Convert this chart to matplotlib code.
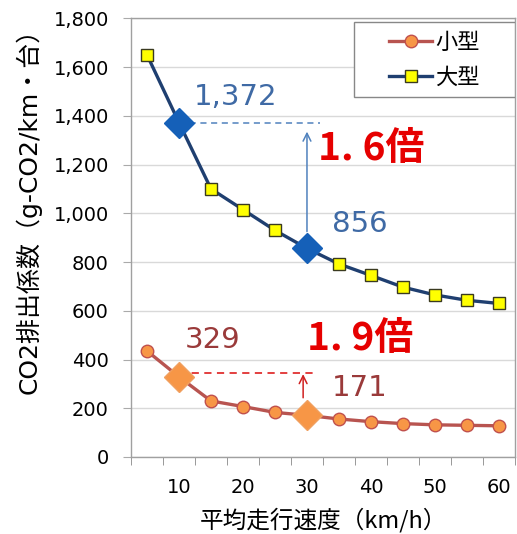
import numpy as np
import matplotlib
matplotlib.use('Agg')
import matplotlib.pyplot as plt
from matplotlib.patches import Rectangle

plt.rcParams['font.family'] = ['DejaVu Sans', 'Noto Sans CJK JP']

# speeds (km/h) and emission factors
speed = [5, 10, 15, 20, 25, 30, 35, 40, 45, 50, 55, 60]
small = [435, 329, 230, 207, 183, 171, 156, 145, 137, 132, 130, 128]
large = [1650, 1372, 1100, 1015, 930, 856, 792, 745, 697, 665, 643, 630]
xticks = [10, 20, 30, 40, 50, 60]
yticks = [0, 200, 400, 600, 800, 1000, 1200, 1400, 1600, 1800]
hi = [10, 30]  # highlighted speeds

navy = '#1f3f70'
brick = '#b85450'
orange = '#f79646'
jp = ['Noto Sans CJK JP']

fig = plt.figure(figsize=(5.17, 5.34), dpi=100)
ax = fig.add_axes([0.2534, 0.1442, 0.7426, 0.8215])

ax.plot(speed, small, color=brick, lw=2.4, marker='o', ms=9,
        mfc=orange, mec='#c0504d', mew=1.0, label='小型', zorder=3)
ax.plot(speed, large, color=navy, lw=2.4, marker='s', ms=9,
        mfc='#ffff00', mec='#3a3a20', mew=1.0, label='大型', zorder=3)

# diamonds at 10 and 30 km/h
hs = [small[speed.index(v)] for v in hi]
hl = [large[speed.index(v)] for v in hi]
ax.plot(hi, hl, ls='none', marker='D', ms=15, mfc='#1560b8', mec='#1560b8', zorder=4)
ax.plot(hi, hs, ls='none', marker='D', ms=15, mfc=orange, mec='#f0a060', zorder=4)

# comparison guides
ax.plot([10, 32], [hl[0], hl[0]], ls=(0, (4, 3)), color='#4f81bd', lw=1.1, zorder=2)
ax.plot([10, 31], [345, 345], ls=(0, (4, 3)), color='#e03030', lw=1.3, zorder=2)
ax.annotate('', xy=(30, 1335), xytext=(30, 925),
            arrowprops=dict(arrowstyle='->', color='#4f81bd', lw=1.1,
                            mutation_scale=14, shrinkA=0, shrinkB=0))
ax.annotate('', xy=(29.4, 340), xytext=(29.4, 243),
            arrowprops=dict(arrowstyle='->', color='#d02020', lw=1.1,
                            mutation_scale=14, shrinkA=0, shrinkB=0))

ax.text(18.9, 1478, '1,372', color='#3f6aa5', fontsize=21, ha='center', va='center')
ax.text(38.3, 958, '856', color='#3f6aa5', fontsize=21, ha='center', va='center')
ax.text(15.2, 480, '329', color='#9a3a3a', fontsize=21, ha='center', va='center')
ax.text(38.2, 283, '171', color='#9a3a3a', fontsize=21, ha='center', va='center')
ax.text(40.0, 1265, '1. 6倍', color='#e60000', fontsize=28, fontweight='bold',
        ha='center', va='center', family=jp)
ax.text(38.3, 485, '1. 9倍', color='#e60000', fontsize=28, fontweight='bold',
        ha='center', va='center', family=jp)

ax.set_xlim(2.5, 62.5)
ax.set_ylim(0, 1800)
ax.set_xticks(xticks)
ax.set_xticks(np.arange(2.5, 63, 5), minor=True)
ax.tick_params(axis='x', which='major', length=0, labelsize=14, pad=15)
ax.tick_params(axis='x', which='minor', length=6, color='#888888', direction='out')
ax.set_yticks(yticks)
ax.set_yticklabels([f'{v:,}' for v in yticks])
ax.tick_params(axis='y', length=6, color='#aaaaaa', labelsize=14, pad=10)
ax.grid(axis='y', color='#d9d9d9', lw=1.0)
ax.set_axisbelow(True)
for s in ax.spines.values():
    s.set_color('#a0a0a0')
    s.set_linewidth(1.0)

ax.set_ylabel('CO2排出係数（g-CO2/km・台）', fontsize=18)
ax.yaxis.set_label_coords(-0.232, 0.574)
ax.set_xlabel('平均走行速度（km/h）', fontsize=17, family=jp)
ax.xaxis.set_label_coords(0.5, -0.116)

# legend box
ax.add_patch(Rectangle((0.581, 0.820), 0.419, 0.171, transform=ax.transAxes,
                       facecolor='white', edgecolor='#888888', lw=1.0, zorder=5))
leg = ax.legend(loc='center', bbox_to_anchor=(0.7905, 0.9055), frameon=False,
                handlelength=1.9, handletextpad=0.15, labelspacing=0.55,
                borderpad=0, prop={'family': jp, 'size': 16})
leg.set_zorder(6)

fig.savefig('out.png', dpi=100, facecolor='w')
